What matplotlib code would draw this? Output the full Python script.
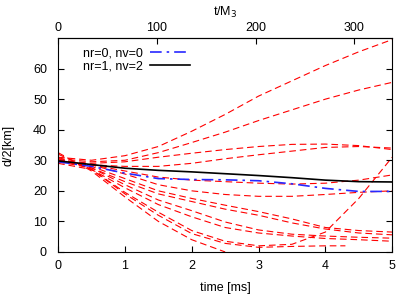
import matplotlib
matplotlib.use("Agg")
import matplotlib.pyplot as plt

plt.rcParams['font.family'] = ['Liberation Sans', 'DejaVu Sans']

# time grid [ms]
t = [0, 0.5, 1, 1.5, 2, 2.5, 3, 3.5, 4, 4.5, 5]

# nr=0, nv=0 (blue dash-dot) and nr=1, nv=2 (black solid)
blue = [29.5, 28.0, 25.8, 24.0, 23.7, 23.6, 23.3, 22.3, 20.8, 19.8, 19.8]
black = [29.8, 28.6, 27.4, 26.7, 26.2, 25.6, 25.0, 24.3, 23.5, 23.0, 22.9]

# other runs (red dashed)
red_runs = [
    [31.0, 30.0, 31.5, 34.5, 39.5, 45.0, 51.0, 56.0, 61.0, 65.5, 69.5],
    [30.5, 29.5, 30.0, 32.5, 35.8, 39.2, 43.0, 46.5, 50.0, 53.0, 55.5],
    [30.0, 29.0, 29.5, 31.0, 32.3, 33.5, 34.5, 35.2, 35.3, 34.8, 33.5],
    [29.5, 28.5, 28.0, 28.0, 29.0, 30.5, 31.8, 33.0, 34.2, 34.5, 34.0],
    [29.5, 28.5, 26.5, 24.5, 23.5, 23.0, 22.5, 22.2, 22.5, 23.5, 25.2],
    [30.0, 28.5, 25.5, 22.0, 20.0, 18.8, 18.2, 18.2, 18.8, 19.5, 20.0],
    [30.0, 28.0, 24.0, 20.0, 17.5, 15.3, 13.2, 10.8, 8.0, 7.0, 6.5],
    [29.5, 27.5, 23.0, 19.0, 16.5, 14.0, 12.0, 9.5, 7.5, 6.2, 5.6],
    [30.5, 27.5, 22.0, 17.0, 13.5, 9.8, 7.2, 5.8, 5.2, 4.8, 4.5],
    [29.0, 27.0, 21.0, 15.5, 11.5, 8.0, 6.2, 5.2, 4.4, 4.0, 3.5],
    [31.0, 27.0, 19.5, 13.0, 7.0, 3.5, 2.0, 2.5, 6.5, 17.5, 31.0],
]
# runs that stop early
t_short1 = [0, 0.5, 1, 1.5, 2, 2.5, 3, 3.5, 4, 4.3]
red_short1 = [32.0, 27.0, 19.0, 12.0, 6.0, 2.8, 1.5, 1.8, 2.0, 2.0]
t_short2 = [0, 0.5, 1, 1.5, 2, 2.5]
red_short2 = [32.5, 26.5, 18.0, 10.0, 4.0, 0.0]

ms_to_M = 1.0 / (3 * 0.004925)

fig = plt.figure(figsize=(4.15, 2.95), dpi=100)
ax = fig.add_axes([0.14, 0.146, 0.805, 0.725])

dash = (0, (6, 3.5))
for run in red_runs:
    ax.plot(t, run, color='red', lw=0.8, linestyle=dash)
ax.plot(t_short1, red_short1, color='red', lw=0.8, linestyle=dash)
ax.plot(t_short2, red_short2, color='red', lw=0.8, linestyle=dash)

ax.plot(t, blue, color='#2828ff', lw=1.2, linestyle=(0, (7, 3, 1.5, 3)),
        label='nr=0, nv=0')
ax.plot(t, black, color='black', lw=1.2, label='nr=1, nv=2')

ax.set_xlim(0, 5)
ax.set_ylim(0, 70)
ax.set_xticks([0, 1, 2, 3, 4, 5])
ax.set_yticks([0, 10, 20, 30, 40, 50, 60])
ax.tick_params(axis='x', direction='in', top=False, labelsize=9, length=4, pad=6)
ax.tick_params(axis='y', direction='in', right=True, labelsize=9, length=4, pad=8)
ax.set_xlabel('time [ms]', fontsize=9, labelpad=7)
ax.set_ylabel('d/2[km]', fontsize=9, labelpad=13)

top = ax.secondary_xaxis('top', functions=(lambda x: x * ms_to_M,
                                           lambda x: x / ms_to_M))
top.set_xticks([0, 100, 200, 300])
top.tick_params(direction='in', labelsize=9, length=4, pad=3)
top.set_xlabel('t/M$_3$', fontsize=9, labelpad=4)

leg = ax.legend(loc='upper left', bbox_to_anchor=(0.04, 1.01), frameon=False,
                markerfirst=False, fontsize=9, handlelength=3.2,
                labelspacing=0.1, handletextpad=0.6)

fig.savefig('out.png', dpi=100)
